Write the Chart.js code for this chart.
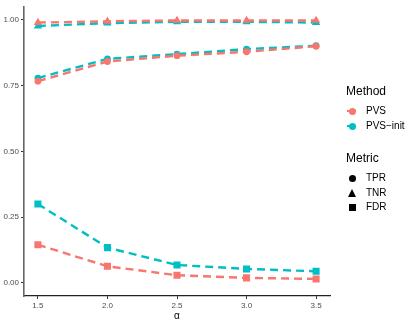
<!DOCTYPE html>
<html>
<head>
<meta charset="utf-8">
<script src="https://cdn.jsdelivr.net/npm/chart.js@4"></script>
<style>
  body { margin: 0; background: #fff; font-family: "Liberation Sans", Arial, sans-serif; }
  #wrap { position: relative; width: 415px; height: 322px; }
  .legend { position: absolute; left: 346px; color: #000; }
  .ltitle { font-size: 12px; position: absolute; white-space: nowrap; }
  .litem { position: absolute; font-size: 10px; white-space: nowrap; left: 20px; }
  .key { position: absolute; }
</style>
</head>
<body>
<div id="wrap">
  <canvas id="chart" width="415" height="322"></canvas>
  <div id="legend"></div>
</div>
<script>
const alphas   = [1.5, 2.0, 2.5, 3.0, 3.5];
const xTicks   = [1.5, 2.0, 2.5, 3.0, 3.5];
const yTicks   = [0, 0.25, 0.5, 0.75, 1.0];
const methods  = ["PVS", "PVS−init"];
const metrics  = ["TPR", "TNR", "FDR"];
const colors   = ["#F8766D", "#00BFC4"];

const pvsTPR  = [0.767, 0.842, 0.864, 0.879, 0.900];
const pvsTNR  = [0.990, 0.995, 0.998, 0.998, 0.998];
const pvsFDR  = [0.145, 0.063, 0.029, 0.019, 0.015];
const initTPR = [0.779, 0.852, 0.870, 0.889, 0.902];
const initTNR = [0.977, 0.988, 0.993, 0.993, 0.990];
const initFDR = [0.300, 0.134, 0.068, 0.053, 0.044];

const seriesByMethod = [
  [pvsTPR, pvsTNR, pvsFDR],
  [initTPR, initTNR, initFDR]
];
const shapes = { TPR: "circle", TNR: "triangle", FDR: "rect" };
const radii  = { TPR: 3.4, TNR: 4.8, FDR: 5 };

const datasets = [];
methods.forEach((m, mi) => {
  metrics.forEach((k, ki) => {
    datasets.push({
      label: m + " " + k,
      data: alphas.map((a, i) => ({ x: a, y: seriesByMethod[mi][ki][i] })),
      borderColor: colors[mi],
      backgroundColor: colors[mi],
      borderWidth: 2.4,
      borderDash: [8, 5],
      pointStyle: shapes[k],
      pointRadius: radii[k],
      pointBorderWidth: 0,
      tension: 0,
      fill: false
    });
  });
});

new Chart(document.getElementById("chart"), {
  type: "line",
  data: { datasets },
  options: {
    responsive: false,
    animation: false,
    layout: { padding: { left: 0, right: 85, top: 4, bottom: 0 } },
    plugins: { legend: { display: false }, tooltip: { enabled: false } },
    scales: {
      x: {
        type: "linear",
        min: 1.4, max: 3.6,
        afterBuildTicks: s => { s.ticks = xTicks.map(v => ({ value: v })); },
        afterFit: s => { s.height = 26; },
        grid: { drawOnChartArea: false, tickLength: 3, color: "#333", tickWidth: 1 },
        border: { color: "#222", width: 1.2 },
        ticks: { color: "#4D4D4D", font: { size: 8, family: "Liberation Sans" }, padding: 2,
                 callback: v => v.toFixed(1), maxRotation: 0 },
        title: { display: true, text: "α", color: "#000", font: { size: 10, family: "Liberation Sans" },
                 padding: { top: 0, bottom: 0 } }
      },
      y: {
        min: -0.05, max: 1.05,
        afterBuildTicks: s => { s.ticks = yTicks.map(v => ({ value: v })); },
        afterFit: s => { s.width = 24; },
        grid: { drawOnChartArea: false, tickLength: 3, color: "#333", tickWidth: 1 },
        border: { color: "#666", width: 1.6 },
        ticks: { color: "#4D4D4D", font: { size: 8, family: "Liberation Sans" }, padding: 2,
                 callback: v => v.toFixed(2) }
      }
    }
  }
});

// legend
const lg = document.getElementById("legend");
let html = '<div class="legend" style="top:0">';
html += '<div class="ltitle" style="top:84px">Method</div>';
methods.forEach((m, i) => {
  const y = 111 + i * 15;
  html += `<div class="key" style="left:1px;top:${y - 1}px;width:9px;height:2.3px;background:${colors[i]}"></div>`;
  html += `<div class="key" style="left:3px;top:${y - 3.5}px;width:7px;height:7px;border-radius:50%;background:${colors[i]}"></div>`;
  html += `<div class="litem" style="top:${y - 6}px">${m}</div>`;
});
html += '<div class="ltitle" style="top:151px">Metric</div>';
metrics.forEach((k, i) => {
  const y = 178 + i * 14.5;
  let shape;
  if (k === "TPR") shape = `<div class="key" style="left:3px;top:${y - 3.5}px;width:7px;height:7px;border-radius:50%;background:#000"></div>`;
  else if (k === "TNR") shape = `<div class="key" style="left:2px;top:${y - 4}px;width:0;height:0;border-left:4.5px solid transparent;border-right:4.5px solid transparent;border-bottom:8px solid #000"></div>`;
  else shape = `<div class="key" style="left:3px;top:${y - 3.5}px;width:7px;height:7px;background:#000"></div>`;
  html += shape;
  html += `<div class="litem" style="top:${y - 6}px">${k}</div>`;
});
html += '</div>';
lg.innerHTML = html;
</script>
</body>
</html>
